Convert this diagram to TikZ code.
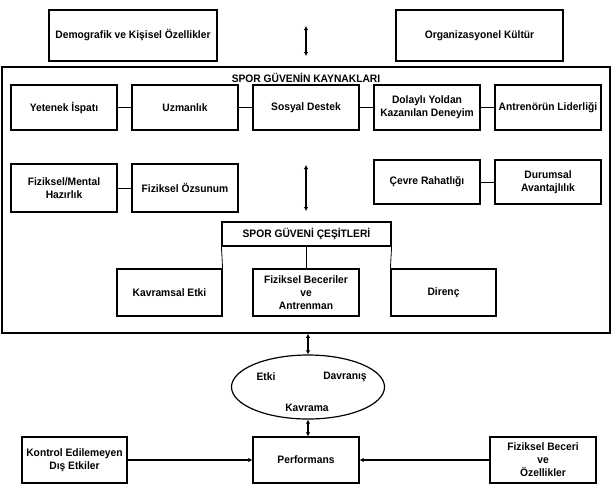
\documentclass[tikz,border=0pt]{standalone}
\usepackage{fontspec}
\setmainfont{Liberation Sans}[FakeStretch=0.95]
\usetikzlibrary{arrows.meta,shapes.geometric}

\begin{document}
\begin{tikzpicture}[x=1pt, y=-1pt,
        every node/.style={font=\bfseries\fontsize{10.8}{13}\selectfont},
        kutu/.style={draw, line width=1.2pt, align=center, inner sep=1pt,
                minimum width=106pt, minimum height=46pt},
        baglanti/.style={line width=1pt},
        okcift/.style={line width=1.4pt, {Latex[length=4pt,width=4.5pt]}-{Latex[length=4pt,width=4.5pt]}},
        okla/.style={line width=1.4pt, -{Latex[length=4pt,width=4.5pt]}}]
        \useasboundingbox (0,0) rectangle (612,499);

        % ust kutular
        \node (D) [kutu, minimum width=168pt, minimum height=51pt] at (133,35.5) {Demografik ve Kişisel Özellikler};
        \node (O) [kutu, minimum width=167pt, minimum height=51pt] at (479.5,35.5) {Organizasyonel Kültür};
        \coordinate (u1) at (306,26);
        \coordinate (u2) at (306,56);
        \draw [okcift] (u1) -- (u2);

        % spor guveninin kaynaklari
        \node (K) [draw, line width=1.5pt, inner sep=0pt, minimum width=608pt, minimum height=266pt] at (306,200) {};
        \node (KT) at (306,78) {SPOR GÜVENİN KAYNAKLARI};

        \node (Y) [kutu, minimum height=45pt] at (64,107.5) {Yetenek İspatı};
        \node (U) [kutu, minimum height=45pt] at (185,107.5) {Uzmanlık};
        \node (S) [kutu, minimum height=45pt] at (306,107.5) {Sosyal Destek};
        \node (DY) [kutu, minimum height=45pt] at (427,107.5) {Dolaylı Yoldan\\Kazanılan Deneyim};
        \node (A) [kutu, minimum height=45pt] at (548,107.5) {Antrenörün Liderliği};
        \draw [baglanti] (Y) -- (U);
        \draw [baglanti] (U) -- (S);
        \draw [baglanti] (S) -- (DY);
        \draw [baglanti] (DY) -- (A);

        \node (FM) [kutu, minimum height=48pt] at (64,188) {Fiziksel/Mental\\Hazırlık};
        \node (FO) [kutu, minimum height=48pt] at (185,188) {Fiziksel Özsunum};
        \draw [baglanti] (FM) -- (FO);
        \node (C) [kutu, minimum height=44pt] at (427,182) {Çevre Rahatlığı};
        \node (DA) [kutu, minimum height=44pt] at (548,182) {Durumsal\\Avantajlılık};
        \draw [baglanti] (C) -- (DA);
        \coordinate (m1) at (306,165);
        \coordinate (m2) at (306,211);
        \draw [okcift] (m1) -- (m2);

        % spor guveni cesitleri
        \node (SC) [kutu, minimum width=169pt, minimum height=24pt] at (306.5,234) {SPOR GÜVENİ ÇEŞİTLERİ};
        \node (KE) [kutu, minimum width=105pt, minimum height=47pt] at (169.5,292.5) {Kavramsal Etki};
        \node (FB) [kutu, minimum height=47pt] at (306,292.5) {Fiziksel Beceriler\\ve\\Antrenman};
        \node (DI) [kutu, minimum width=105pt, minimum height=47pt] at (443.5,292.5) {Direnç};
        \draw [line width=0.8pt] (SC.south west) -- (KE.north east);
        \draw [line width=0.8pt] (SC.south east) -- (DI.north west);
        \draw [line width=0.5pt] (SC.south -| FB.north) -- (FB.north);

        % ellips ve performans
        \node (E) [draw, ellipse, line width=1.2pt, minimum width=153pt, minimum height=64pt] at (308,387) {};
        \node (E1) at (266,377) {Etki};
        \node (E2) at (345,377) {Davranış};
        \node (E3) at (307,408) {Kavrama};
        \draw [okcift] (K.south -| E.north) -- (E.north);

        \node (P) [kutu] at (306,460) {Performans};
        \node (KD) [kutu, minimum width=105pt] at (74.5,460) {Kontrol Edilemeyen\\Dış Etkiler};
        \node (FE) [kutu] at (543,460) {Fiziksel Beceri\\ve\\Özellikler};
        \draw [okcift] (E.south) -- (E.south |- P.north);
        \draw [okla] (KD) -- (P);
        \draw [okla] (FE) -- (P);
\end{tikzpicture}
\end{document}
